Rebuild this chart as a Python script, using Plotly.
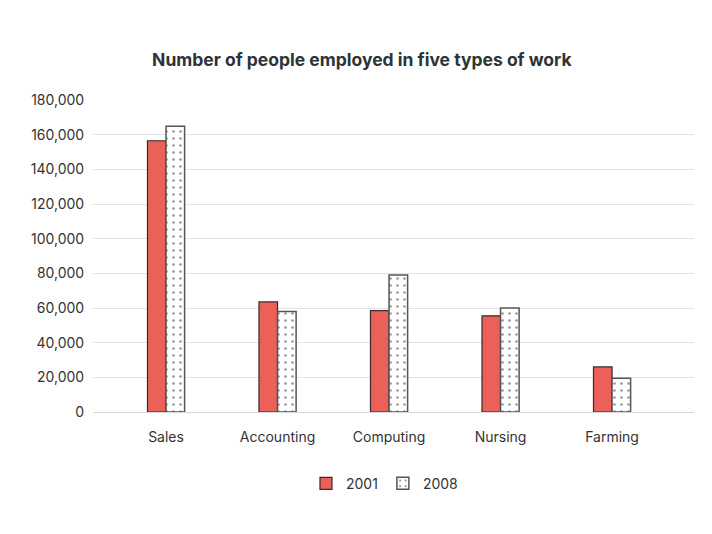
import plotly.graph_objects as go

categories = ["Sales", "Accounting", "Computing", "Nursing", "Farming"]
values_2001 = [156500, 63500, 58500, 55500, 26000]
values_2008 = [164800, 58000, 79000, 60000, 19500]
tick_vals = [0, 20000, 40000, 60000, 80000, 100000, 120000, 140000, 160000, 180000]
tick_text = ["0", "20,000", "40,000", "60,000", "80,000", "100,000", "120,000", "140,000", "160,000", "180,000"]

FONT = "Inter, Roboto, sans-serif"

fig = go.Figure()
fig.add_trace(go.Bar(
    x=categories, y=values_2001, name="2001",
    marker=dict(color="#eb6159", line=dict(color="#3a2a2a", width=1.2)),
))
fig.add_trace(go.Bar(
    x=categories, y=values_2008, name="2008",
    marker=dict(color="white", line=dict(color="#555555", width=1.5),
                pattern=dict(shape=".", fgcolor="#333333", bgcolor="white",
                             size=7, solidity=0.12)),
))

fig.update_layout(
    width=712, height=534,
    paper_bgcolor="white", plot_bgcolor="white",
    margin=dict(l=85, r=26, t=92, b=130),
    barmode="group", bargap=0.667, bargroupgap=0,
    font=dict(family=FONT, size=14, color="#333333"),
    title=dict(text="<b>Number of people employed in five types of work</b>",
               x=0.497, xanchor="center", y=0.902, yanchor="middle",
               font=dict(family=FONT, size=17.5, color="#2d3436")),
    xaxis=dict(type="category", range=[-0.655, 4.735], showgrid=False,
               showline=False, zeroline=False,
               ticks="outside", ticklen=12, tickcolor="rgba(0,0,0,0)",
               tickfont=dict(family=FONT, size=14, color="#333333")),
    yaxis=dict(range=[0, 180000], tickvals=tick_vals, ticktext=tick_text,
               showgrid=True, gridcolor="#e3e3e3", gridwidth=1,
               zeroline=True, zerolinecolor="#d8d8d8", zerolinewidth=1,
               showline=False,
               ticks="outside", ticklen=5, tickcolor="rgba(0,0,0,0)",
               tickfont=dict(family=FONT, size=14, color="#333333")),
    legend=dict(orientation="h", x=0.485, xanchor="center", y=-0.23, yanchor="middle",
                font=dict(family=FONT, size=14, color="#333333"),
                itemwidth=30, traceorder="normal"),
    showlegend=True,
)

fig.write_html("out.html")
